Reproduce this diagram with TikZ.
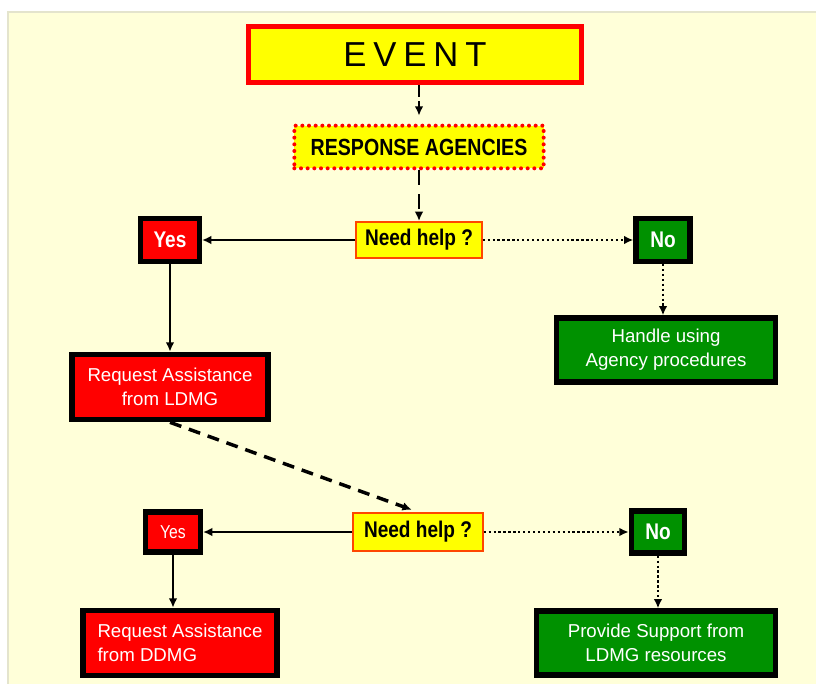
\documentclass[tikz,border=0pt]{standalone}
\usepackage{fontspec}
\setmainfont{Liberation Sans}
\newfontfamily\narrowfont[FakeStretch=0.84]{Liberation Sans}
\newfontfamily\eventfont[LetterSpace=20]{Liberation Sans}
\usetikzlibrary{arrows.meta}

\definecolor{paper}{RGB}{255,255,217}
\definecolor{edge}{RGB}{228,228,205}
\definecolor{hot}{RGB}{255,0,0}
\definecolor{lemon}{RGB}{255,255,0}
\definecolor{leaf}{RGB}{0,145,0}
\definecolor{rim}{RGB}{255,70,0}

\begin{document}
\begin{tikzpicture}[x=0.75pt, y=-0.75pt,
every node/.style={inner sep=0pt, align=center},
framed/.style={draw=black, line width=4pt, text=white, font=\fontsize{14}{18}\selectfont},
redbox/.style={framed, fill=hot},
greenbox/.style={framed, fill=leaf},
askbox/.style={draw=rim, line width=1.5pt, fill=lemon, minimum width=94pt, minimum height=27pt,
  font=\narrowfont\bfseries\fontsize{17}{20}\selectfont},
answer/.style={font=\narrowfont\bfseries\fontsize{17}{20}\selectfont},
dots/.style={line width=1.9pt, dash pattern=on 1.7pt off 2pt},
]

% panel
\useasboundingbox (0,0) rectangle (816,684);
\fill[white] (0,0) rectangle (816,684);
\fill[paper] (8,12) rectangle (816,684);
\draw[edge, line width=1.5pt] (8,684) -- (8,12) -- (816,12);

\path
(415,55) node[draw=hot, fill=lemon, line width=3.75pt, minimum width=250pt, minimum height=42pt,
  font=\eventfont\fontsize{26}{28}\selectfont] (e0) {EVENT}
(419,147) node[draw=hot, fill=lemon, line width=3pt, line cap=round, dash pattern=on 0pt off 5pt,
  minimum width=187pt, minimum height=32pt,
  font=\narrowfont\bfseries\fontsize{17.5}{20}\selectfont] (r0) {RESPONSE AGENCIES}
(419,240) node[askbox] (q1) {Need help ?}
(170,240) node[redbox, answer, minimum width=44pt, minimum height=32pt] (y1) {Yes}
(663,240) node[greenbox, answer, minimum width=40.5pt, minimum height=32pt] (n1) {No}
(170,387) node[redbox, minimum width=147pt, minimum height=49pt] (s1) {Request Assistance\\from LDMG}
(666,350) node[greenbox, minimum width=164pt, minimum height=48pt] (t1) {Handle using\\Agency procedures}
(418,532) node[askbox, minimum width=97pt, minimum height=28.5pt] (q2) {Need help ?}
(173,532) node[redbox, minimum width=41pt, minimum height=30pt,
  font=\narrowfont\fontsize{14}{16}\selectfont] (y2) {Yes}
(658,532) node[greenbox, answer, minimum width=40pt, minimum height=31.5pt] (n2) {No}
(180,643) node[redbox, align=left, minimum width=145.5pt, minimum height=49pt] (s2) {Request Assistance\\from DDMG}
(656,643) node[greenbox, minimum width=179pt, minimum height=48pt] (t2) {Provide Support from\\LDMG resources}
;

% connectors
\begin{scope}[-{Latex[length=7pt,width=6.5pt]}, line width=2pt]
\draw[dash pattern=on 9pt off 3pt, shorten >=6pt] (e0.south -| r0.north) -- (r0.north);
\draw[line width=2.2pt, dash pattern=on 11pt off 7pt] (r0) -- (q1);
\draw (q1) -- (y1);
\draw[dots] (q1) -- (n1);
\draw (y1) -- (s1);
\draw[dots] (n1.south) -- (n1.south |- t1.north);
\draw[line width=2.6pt, dash pattern=on 9pt off 6pt, shorten >=5pt] (s1.south) -- (q2.north);
\draw (q2) -- (y2);
\draw[dots] (q2) -- (n2);
\draw (y2.south) -- (y2.south |- s2.north);
\draw[dots] (n2.south) -- (n2.south |- t2.north);
\end{scope}

\end{tikzpicture}
\end{document}
